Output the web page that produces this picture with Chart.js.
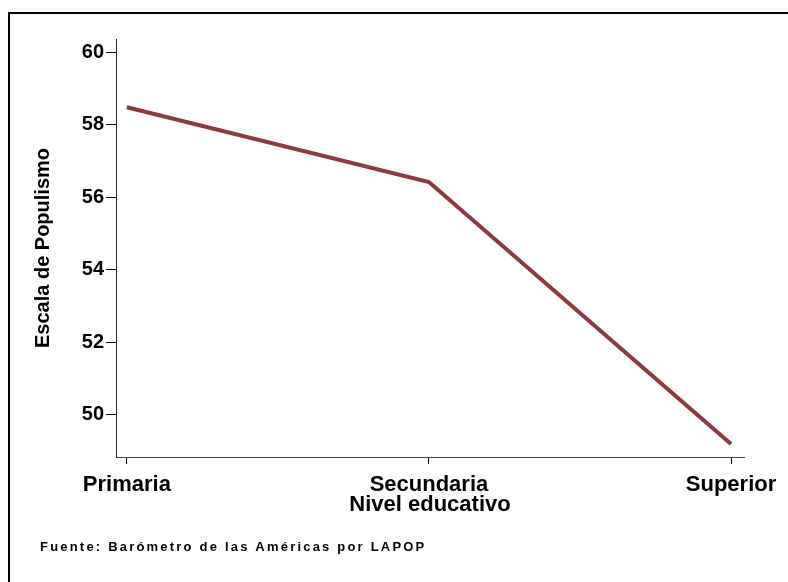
<!DOCTYPE html>
<html>
<head>
<meta charset="utf-8">
<script src="https://cdn.jsdelivr.net/npm/chart.js@4/dist/chart.umd.min.js"></script>
<style>
    html, body { margin: 0; padding: 0; background: #fff; }
    #chartBox { width: 788px; height: 582px; }
</style>
</head>
<body>
<div id="chartBox"><canvas id="myChart"></canvas></div>
<script>
const categories = ["Primaria", "Secundaria", "Superior"];
const populismo = [58.48, 56.42, 49.2];
const yTicks = [50, 52, 54, 56, 58, 60];

const fontFamily = "'Liberation Sans', Arial, sans-serif";
const lineColor = "#8c3a3d";

// marco y nota de fuente
const framePlugin = {
    id: "frame",
    beforeDraw(chart) {
        const ctx = chart.ctx;
        ctx.save();
        ctx.fillStyle = "#fff";
        ctx.fillRect(0, 0, chart.width, chart.height);
        ctx.strokeStyle = "#000";
        ctx.lineWidth = 2;
        ctx.beginPath();
        ctx.moveTo(9, chart.height);
        ctx.lineTo(9, 13);
        ctx.lineTo(chart.width, 13);
        ctx.stroke();
        ctx.restore();
    },
    afterDraw(chart) {
        const ctx = chart.ctx;
        ctx.save();
        ctx.fillStyle = "#000";
        ctx.font = "bold 13px " + fontFamily;
        ctx.letterSpacing = "2.2px";
        ctx.textBaseline = "alphabetic";
        ctx.fillText("Fuente: Barómetro de las Américas por LAPOP", 40, 551);
        ctx.restore();
    }
};

let points = [];
for (let n = 0; n < categories.length; n++) {
    points.push({ x: n, y: populismo[n] });
}

const data = {
    datasets: [{
        label: "Escala de Populismo",
        data: points,
        borderColor: lineColor,
        backgroundColor: lineColor,
        borderWidth: 4,
        pointRadius: 0,
        fill: false,
        tension: 0
    }]
};

const config = {
    type: "line",
    data: data,
    options: {
        responsive: false,
        animation: false,
        devicePixelRatio: 1,
        layout: {
            padding: { left: 10, right: 44, top: 39, bottom: 64 }
        },
        plugins: {
            legend: { display: false },
            tooltip: { enabled: false }
        },
        scales: {
            x: {
                type: "linear",
                min: -0.036,
                max: 2.043,
                afterBuildTicks: (scale) => {
                    scale.ticks = categories.map((c, i) => ({ value: i }));
                },
                afterFit: (scale) => { scale.height = 61; },
                grid: {
                    drawOnChartArea: false,
                    drawTicks: true,
                    tickLength: 7,
                    tickColor: "#000",
                    tickWidth: 1
                },
                border: { display: true, color: "#444", width: 1 },
                ticks: {
                    color: "#000",
                    padding: 8,
                    maxRotation: 0,
                    font: { family: fontFamily, size: 22, weight: "bold" },
                    callback: (v) => categories[v]
                },
                title: {
                    display: true,
                    text: "Nivel educativo",
                    color: "#000",
                    padding: 0,
                    font: { family: fontFamily, size: 22, weight: "bold" }
                }
            },
            y: {
                min: 48.84,
                max: 60.36,
                afterBuildTicks: (scale) => {
                    scale.ticks = yTicks.map((v) => ({ value: v }));
                },
                afterFit: (scale) => { scale.width = 106; },
                grid: {
                    drawOnChartArea: false,
                    drawTicks: true,
                    tickLength: 10,
                    tickColor: "#000",
                    tickWidth: 1
                },
                border: { display: true, color: "#222", width: 1 },
                ticks: {
                    color: "#000",
                    padding: 2,
                    font: { family: fontFamily, size: 20, weight: "bold" }
                },
                title: {
                    display: true,
                    text: "Escala de Populismo",
                    color: "#000",
                    padding: { top: 21, bottom: 0 },
                    font: { family: fontFamily, size: 20, weight: "bold" }
                }
            }
        }
    },
    plugins: [framePlugin]
};

const canvas = document.getElementById("myChart");
canvas.width = 788;
canvas.height = 582;
const myChart = new Chart(canvas, config);
</script>
</body>
</html>
